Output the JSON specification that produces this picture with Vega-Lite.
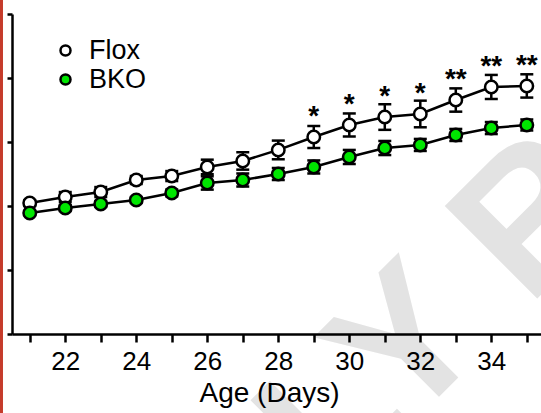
{
  "$schema": "https://vega.github.io/schema/vega-lite/v6.json",
  "width": 529,
  "height": 320,
  "autosize": "none",
  "padding": {"left": 12, "top": 14, "right": 0, "bottom": 79},
  "background": "white",
  "config": {
    "font": "Liberation Sans",
    "view": {"stroke": null},
    "axis": {"domainColor": "black", "tickColor": "black", "labelColor": "black", "titleColor": "black", "domainWidth": 2.5, "tickWidth": 2.5, "grid": false}
  },
  "datasets": {
    "main": [
      {"day": 21, "group": "Flox", "mean": 10.23, "sem": 0.23, "sig": ""},
      {"day": 22, "group": "Flox", "mean": 10.70, "sem": 0.39, "sig": ""},
      {"day": 23, "group": "Flox", "mean": 11.09, "sem": 0.39, "sig": ""},
      {"day": 24, "group": "Flox", "mean": 12.03, "sem": 0.31, "sig": ""},
      {"day": 25, "group": "Flox", "mean": 12.34, "sem": 0.39, "sig": ""},
      {"day": 26, "group": "Flox", "mean": 13.05, "sem": 0.57, "sig": ""},
      {"day": 27, "group": "Flox", "mean": 13.52, "sem": 0.68, "sig": ""},
      {"day": 28, "group": "Flox", "mean": 14.38, "sem": 0.73, "sig": ""},
      {"day": 29, "group": "Flox", "mean": 15.39, "sem": 0.86, "sig": "*"},
      {"day": 30, "group": "Flox", "mean": 16.33, "sem": 0.90, "sig": "*"},
      {"day": 31, "group": "Flox", "mean": 16.95, "sem": 1.00, "sig": "*"},
      {"day": 32, "group": "Flox", "mean": 17.19, "sem": 1.04, "sig": "*"},
      {"day": 33, "group": "Flox", "mean": 18.28, "sem": 0.91, "sig": "**"},
      {"day": 34, "group": "Flox", "mean": 19.30, "sem": 0.94, "sig": "**"},
      {"day": 35, "group": "Flox", "mean": 19.38, "sem": 0.91, "sig": "**"},
      {"day": 21, "group": "BKO", "mean": 9.45, "sem": 0.15, "sig": ""},
      {"day": 22, "group": "BKO", "mean": 9.84, "sem": 0.23, "sig": ""},
      {"day": 23, "group": "BKO", "mean": 10.16, "sem": 0.23, "sig": ""},
      {"day": 24, "group": "BKO", "mean": 10.47, "sem": 0.23, "sig": ""},
      {"day": 25, "group": "BKO", "mean": 11.02, "sem": 0.27, "sig": ""},
      {"day": 26, "group": "BKO", "mean": 11.80, "sem": 0.52, "sig": ""},
      {"day": 27, "group": "BKO", "mean": 12.03, "sem": 0.51, "sig": ""},
      {"day": 28, "group": "BKO", "mean": 12.50, "sem": 0.47, "sig": ""},
      {"day": 29, "group": "BKO", "mean": 13.05, "sem": 0.51, "sig": ""},
      {"day": 30, "group": "BKO", "mean": 13.83, "sem": 0.55, "sig": ""},
      {"day": 31, "group": "BKO", "mean": 14.53, "sem": 0.55, "sig": ""},
      {"day": 32, "group": "BKO", "mean": 14.77, "sem": 0.47, "sig": ""},
      {"day": 33, "group": "BKO", "mean": 15.55, "sem": 0.47, "sig": ""},
      {"day": 34, "group": "BKO", "mean": 16.09, "sem": 0.47, "sig": ""},
      {"day": 35, "group": "BKO", "mean": 16.33, "sem": 0.43, "sig": ""}
    ],
    "edge": [
      {"side": "left", "label": "EARLY RELEASE"}
    ]
  },
  "layer": [
    {
      "data": {"name": "edge"},
      "mark": {"type": "text", "fontSize": 190, "fontWeight": "bold", "color": "#e3e3e3", "angle": -45, "align": "center", "baseline": "middle"},
      "encoding": {
        "x": {
          "datum": 36.11, "type": "quantitative",
          "axis": {
            "values": [21, 22, 23, 24, 25, 26, 27, 28, 29, 30, 31, 32, 33, 34, 35],
            "labelExpr": "datum.value % 2 == 0 ? datum.label : ''",
            "tickSize": 8, "labelFontSize": 26, "labelPadding": 6, "labelFlush": false, "labelOverlap": false,
            "title": "Age (Days)", "titleFontSize": 28, "titleFontWeight": "normal", "titlePadding": 5,
            "titleX": 257, "titleAlign": "center", "zindex": 1
          }
        },
        "y": {
          "datum": 11.33, "type": "quantitative",
          "axis": {"values": [0, 5, 10, 15, 20, 25], "tickSize": 5, "labels": false, "title": null, "zindex": 1}
        },
        "text": {"field": "label"}
      }
    },
    {
      "data": {"name": "main"},
      "encoding": {
        "x": {
          "field": "day", "type": "quantitative",
          "scale": {"domain": [20.5, 35.4], "nice": false, "zero": false},
          "axis": {
            "values": [21, 22, 23, 24, 25, 26, 27, 28, 29, 30, 31, 32, 33, 34, 35],
            "labelExpr": "datum.value % 2 == 0 ? datum.label : ''",
            "tickSize": 8, "labelFontSize": 26, "labelPadding": 6, "labelFlush": false, "labelOverlap": false,
            "title": "Age (Days)", "titleFontSize": 28, "titleFontWeight": "normal", "titlePadding": 5,
            "titleX": 257, "titleAlign": "center", "zindex": 1
          }
        },
        "y": {
          "field": "mean", "type": "quantitative",
          "scale": {"domain": [0, 25], "nice": false},
          "axis": {"values": [0, 5, 10, 15, 20, 25], "tickSize": 5, "labels": false, "title": null, "zindex": 1}
        }
      },
      "layer": [
        {
          "mark": {"type": "line", "color": "black", "strokeWidth": 2.5},
          "encoding": {"detail": {"field": "group"}}
        },
        {
          "mark": {"type": "errorbar", "color": "black", "thickness": 2.5, "opacity": 1, "rule": {"color": "black", "strokeWidth": 2.5}, "ticks": {"size": 13, "thickness": 2.5, "color": "black"}},
          "encoding": {"yError": {"field": "sem"}, "detail": {"field": "group"}}
        },
        {
          "mark": {"type": "point", "shape": "circle", "filled": true, "size": 156, "stroke": "black", "strokeWidth": 2.5, "opacity": 1},
          "encoding": {
            "fill": {
              "field": "group", "type": "nominal",
              "scale": {"domain": ["Flox", "BKO"], "range": ["white", "#00e600"]},
              "legend": {
                "title": null, "orient": "none", "legendX": 40, "legendY": 23,
                "labelFontSize": 27, "labelColor": "black", "symbolSize": 100, "symbolStrokeWidth": 2.5,
                "symbolStrokeColor": "black", "symbolType": "circle", "rowPadding": 1, "labelOffset": 10, "padding": 0
              }
            }
          }
        },
        {
          "transform": [{"filter": "datum.sig != ''"}],
          "mark": {"type": "text", "fontSize": 28, "fontWeight": "bold", "color": "black", "baseline": "alphabetic", "dy": -12},
          "encoding": {"text": {"field": "sig"}}
        }
      ]
    },
    {
      "data": {"name": "edge"},
      "mark": {"type": "rule", "color": "#c53b2b", "strokeWidth": 3},
      "encoding": {
        "x": {
          "datum": 20.204, "type": "quantitative",
          "axis": {
            "values": [21, 22, 23, 24, 25, 26, 27, 28, 29, 30, 31, 32, 33, 34, 35],
            "labelExpr": "datum.value % 2 == 0 ? datum.label : ''",
            "tickSize": 8, "labelFontSize": 26, "labelPadding": 6, "labelFlush": false, "labelOverlap": false,
            "title": "Age (Days)", "titleFontSize": 28, "titleFontWeight": "normal", "titlePadding": 5,
            "titleX": 257, "titleAlign": "center", "zindex": 1
          }
        },
        "y": {
          "datum": 26.2, "type": "quantitative",
          "axis": {"values": [0, 5, 10, 15, 20, 25], "tickSize": 5, "labels": false, "title": null, "zindex": 1}
        },
        "y2": {"datum": -6.3}
      }
    }
  ]
}
